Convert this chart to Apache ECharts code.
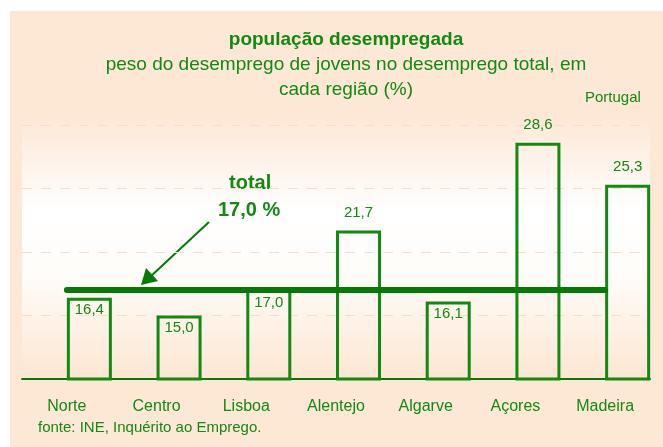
<!DOCTYPE html>
<html>
<head>
<meta charset="utf-8">
<script src="https://cdn.jsdelivr.net/npm/echarts@6/dist/echarts.min.js"></script>
<style>
  html, body { margin: 0; padding: 0; background: #fff; }
  #chart { width: 663px; height: 447px; }
</style>
</head>
<body>
<div id="chart"></div>
<script>
var regions = ['Norte', 'Centro', 'Lisboa', 'Alentejo', 'Algarve', 'Açores', 'Madeira'];
var pesoJovens = [16.4, 15.0, 17.0, 21.7, 16.1, 28.6, 25.3];
var totalPortugal = 17.0;

var green = '#118a11';
var darkGreen = '#037a03';
var peach = '#fde7d5';
var font = 'Liberation Sans, Arial, sans-serif';

function fmt(v) {
  return v.toFixed(1).replace('.', ',');
}

var chartDom = document.getElementById('chart');
var myChart = echarts.init(chartDom);

var barData = pesoJovens.map(function (v) {
  var inside = v <= totalPortugal;
  return {
    value: v,
    label: {
      position: inside ? 'insideTop' : 'top',
      distance: inside ? 5 : 10
    }
  };
});

// the total line runs across every region, at band centres
var totalLine = regions.map(function () { return totalPortugal; });

var option = {
  animation: false,
  textStyle: { fontFamily: font },
  graphic: [
    {
      type: 'rect', z: -10, silent: true,
      shape: { x: 10, y: 11, width: 653, height: 436 },
      style: { fill: peach }
    },
    {
      type: 'rect', z: -9, silent: true,
      shape: { x: 22, y: 110, width: 628, height: 269 },
      style: {
        fill: new echarts.graphic.LinearGradient(0, 0, 0, 1, [
          { offset: 0, color: '#fde6d3' },
          { offset: 0.38, color: '#ffffff' },
          { offset: 0.62, color: '#fffcf9' },
          { offset: 1, color: '#fde6d2' }
        ])
      }
    },
    {
      type: 'text',
      style: { x: 346, y: 30, text: 'população desempregada', textAlign: 'center', fill: green, font: 'bold 19px ' + font }
    },
    {
      type: 'text',
      style: { x: 346, y: 55, text: 'peso do desemprego de jovens no desemprego total, em', textAlign: 'center', fill: green, font: '19px ' + font }
    },
    {
      type: 'text',
      style: { x: 346, y: 80, text: 'cada região (%)', textAlign: 'center', fill: green, font: '19px ' + font }
    },
    {
      type: 'text', left: 585, top: 90,
      style: { text: 'Portugal', fill: green, font: '15px ' + font }
    },
    {
      type: 'text', left: 229, top: 173,
      style: { text: 'total', fill: green, font: 'bold 20px ' + font }
    },
    {
      type: 'text', left: 218, top: 200,
      style: { text: fmt(totalPortugal) + ' %', fill: green, font: 'bold 20px ' + font }
    },
    {
      type: 'line', silent: true,
      shape: { x1: 209, y1: 222, x2: 150, y2: 277 },
      style: { stroke: darkGreen, lineWidth: 2 }
    },
    {
      type: 'polygon', silent: true,
      shape: { points: [[141, 285], [146, 268], [158, 281]] },
      style: { fill: darkGreen }
    },
    {
      type: 'text', left: 38, top: 420,
      style: { text: 'fonte: INE, Inquérito ao Emprego.', fill: green, font: '15px ' + font }
    }
  ],
  grid: { left: 22, right: 13, top: 125, bottom: 68 },
  xAxis: {
    type: 'category',
    data: regions,
    axisLine: { lineStyle: { color: darkGreen, width: 2 } },
    axisTick: { show: false },
    axisLabel: { color: green, fontSize: 16, margin: 20, interval: 0, fontFamily: font }
  },
  yAxis: {
    type: 'value',
    min: 10, max: 30, interval: 5,
    axisLine: { show: false },
    axisTick: { show: false },
    axisLabel: { show: false },
    splitLine: { lineStyle: { color: '#fcdcc2', type: [10, 9], width: 1 } }
  },
  series: [
    {
      type: 'bar',
      name: 'spacer',
      data: regions.map(function () { return '-'; }),
      barWidth: 45,
      barGap: '0%',
      silent: true
    },
    {
      type: 'bar',
      name: 'peso',
      data: barData,
      barWidth: 45,
      barGap: '0%',
      itemStyle: { color: 'rgba(0,0,0,0)', borderColor: green, borderWidth: 3 },
      label: {
        show: true,
        color: green,
        fontSize: 15,
        fontFamily: font,
        formatter: function (p) { return fmt(p.value); }
      }
    },
    {
      type: 'line',
      name: 'total',
      data: totalLine,
      showSymbol: false,
      silent: true,
      z: 5,
      lineStyle: { color: darkGreen, width: 6, cap: 'round' }
    }
  ]
};

myChart.setOption(option);
</script>
</body>
</html>
